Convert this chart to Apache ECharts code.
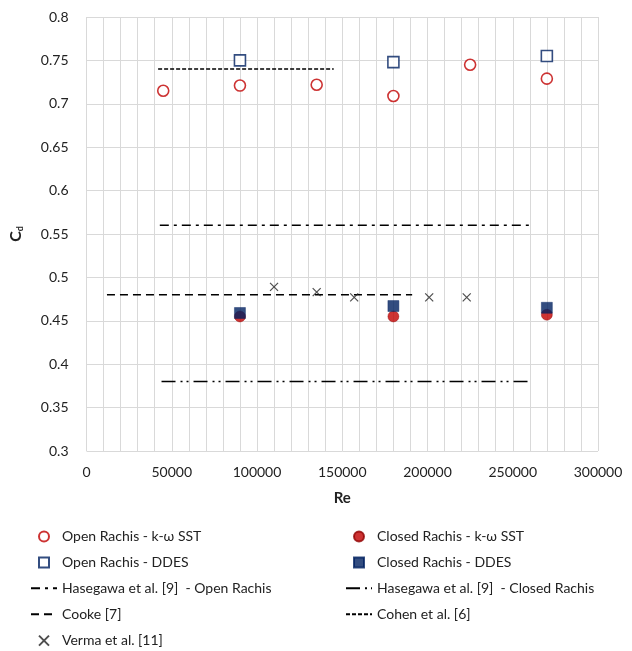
<!DOCTYPE html>
<html>
<head>
<meta charset="utf-8">
<script src="https://cdn.jsdelivr.net/npm/echarts@6/dist/echarts.min.js"></script>
<style>
html,body{margin:0;padding:0;background:#fff;}
#chart{width:632px;height:651px;}
</style>
</head>
<body>
<div id="chart"></div>
<script>
// ---- data ----
const openSstRe = [45000, 90000, 135000, 180000, 225000, 270000];
const openSstCd = [0.715, 0.721, 0.722, 0.709, 0.745, 0.729];
const openDdesRe = [90000, 180000, 270000];
const openDdesCd = [0.750, 0.748, 0.755];
const closedSstRe = [90000, 180000, 270000];
const closedSstCd = [0.455, 0.455, 0.457];
const closedDdesRe = [90000, 180000, 270000];
const closedDdesCd = [0.459, 0.467, 0.465];
const vermaRe = [110000, 135000, 157000, 201000, 223000];
const vermaCd = [0.489, 0.483, 0.477, 0.477, 0.477];
const hasegawaOpenRe = [43000, 260000];
const hasegawaOpenCd = [0.56, 0.56];
const hasegawaClosedRe = [44000, 261000];
const hasegawaClosedCd = [0.38, 0.38];
const cookeRe = [12000, 191000];
const cookeCd = [0.48, 0.48];
const cohenRe = [42000, 145000];
const cohenCd = [0.74, 0.74];

const names = {
  openSst: 'Open Rachis - k-ω SST',
  closedSst: 'Closed Rachis - k-ω SST',
  openDdes: 'Open Rachis - DDES',
  closedDdes: 'Closed Rachis - DDES',
  hasOpen: 'Hasegawa et al. [9]  - Open Rachis',
  hasClosed: 'Hasegawa et al. [9]  - Closed Rachis',
  cooke: 'Cooke [7]',
  cohen: 'Cohen et al. [6]',
  verma: 'Verma et al. [11]'
};

const zip = (a, b) => a.map((v, i) => [v, b[i]]);
const RED = '#C00000';
const NAVY = '#002060';
const FONT = 'Lato, "Open Sans", sans-serif';
const SQUARE = 'path://M0,0L10,0L10,10L0,10Z';

const chart = echarts.init(document.getElementById('chart'), null, {renderer: 'canvas'});

function lineSeries(name, xs, ys, dash) {
  return {
    name, type: 'line', data: zip(xs, ys), symbol: 'none', showSymbol: false,
    lineStyle: {color: '#000', width: 1.5, type: dash},
    itemStyle: {color: '#000'}, z: 2, silent: true
  };
}
const lineLegend = name => ({name, itemStyle: {color: 'rgba(0,0,0,0)', borderColor: 'rgba(0,0,0,0)', borderWidth: 0}});

const legendBase = {
  orient: 'vertical', top: 529.5, padding: 0, itemGap: 11.9, itemWidth: 26, itemHeight: 10,
  textStyle: {fontSize: 14, color: '#222', fontFamily: FONT}
};

const option = {
  animation: false,
  backgroundColor: '#fff',
  textStyle: {fontFamily: FONT},
  grid: {left: 79, right: 34, top: 17, bottom: 200, containLabel: false},
  xAxis: {
    type: 'value', min: 0, max: 300000, interval: 10000,
    name: 'Re', nameLocation: 'middle', nameGap: 40,
    nameTextStyle: {fontWeight: 'bold', fontSize: 15, color: '#222', fontFamily: FONT},
    axisLine: {show: false}, axisTick: {show: false},
    axisLabel: {
      fontSize: 14, color: '#222', margin: 14, fontFamily: FONT,
      formatter: v => (v % 50000 === 0 ? String(v) : '')
    },
    splitLine: {show: true, lineStyle: {color: '#d9d9d9', width: 1}}
  },
  yAxis: {
    type: 'value', min: 0.3, max: 0.8, interval: 0.05,
    name: '{c|C}{d|d}', nameLocation: 'middle', nameGap: 62, nameRotate: 90,
    nameTextStyle: {
      rich: {
        c: {fontWeight: 'bold', fontSize: 16, color: '#222', fontFamily: FONT},
        d: {fontWeight: 'bold', fontSize: 9, color: '#222', fontFamily: FONT, padding: [8, 0, 0, 0]}
      }
    },
    axisLine: {show: false}, axisTick: {show: false},
    axisLabel: {
      fontSize: 14, color: '#222', margin: 18, fontFamily: FONT,
      formatter: v => String(parseFloat(v.toFixed(2)))
    },
    splitLine: {show: true, lineStyle: {color: '#d9d9d9', width: 1}}
  },
  legend: [
    Object.assign({}, legendBase, {
      left: 30,
      data: [
        {name: names.openSst, icon: 'circle'},
        {name: names.openDdes, icon: SQUARE},
        lineLegend(names.hasOpen),
        lineLegend(names.cooke),
        {name: names.verma}
      ]
    }),
    Object.assign({}, legendBase, {
      left: 345,
      data: [
        {name: names.closedSst, icon: 'circle'},
        {name: names.closedDdes, icon: SQUARE},
        lineLegend(names.hasClosed),
        lineLegend(names.cohen)
      ]
    })
  ],
  series: [
    lineSeries(names.hasOpen, hasegawaOpenRe, hasegawaOpenCd, [9, 5, 3, 5]),
    lineSeries(names.hasClosed, hasegawaClosedRe, hasegawaClosedCd, [14, 5, 2, 4, 2, 5]),
    lineSeries(names.cooke, cookeRe, cookeCd, [8, 5]),
    lineSeries(names.cohen, cohenRe, cohenCd, [4, 2]),
    {
      name: names.openSst, type: 'scatter', data: zip(openSstRe, openSstCd),
      symbol: 'circle', symbolSize: 11, z: 3,
      itemStyle: {color: '#fff', borderColor: RED, borderWidth: 1.6}
    },
    {
      name: names.openDdes, type: 'scatter', data: zip(openDdesRe, openDdesCd),
      symbol: 'rect', symbolSize: 11, z: 3,
      itemStyle: {color: '#fff', borderColor: NAVY, borderWidth: 1.6}
    },
    {
      name: names.closedSst, type: 'scatter', data: zip(closedSstRe, closedSstCd),
      symbol: 'circle', symbolSize: 11, z: 3,
      itemStyle: {color: RED, borderColor: '#900000', borderWidth: 0.5}
    },
    {
      name: names.closedDdes, type: 'scatter', data: zip(closedDdesRe, closedDdesCd),
      symbol: 'rect', symbolSize: 11, z: 4,
      itemStyle: {color: NAVY, borderColor: NAVY, borderWidth: 0.5}
    },
    {
      name: names.verma, type: 'scatter', data: zip(vermaRe, vermaCd),
      symbol: 'path://M0,0L10,10M10,0L0,10', symbolSize: 8, z: 5,
      itemStyle: {color: 'none', borderColor: '#222', borderWidth: 1.2}
    }
  ]
};
chart.setOption(option);
</script>
</body>
</html>
